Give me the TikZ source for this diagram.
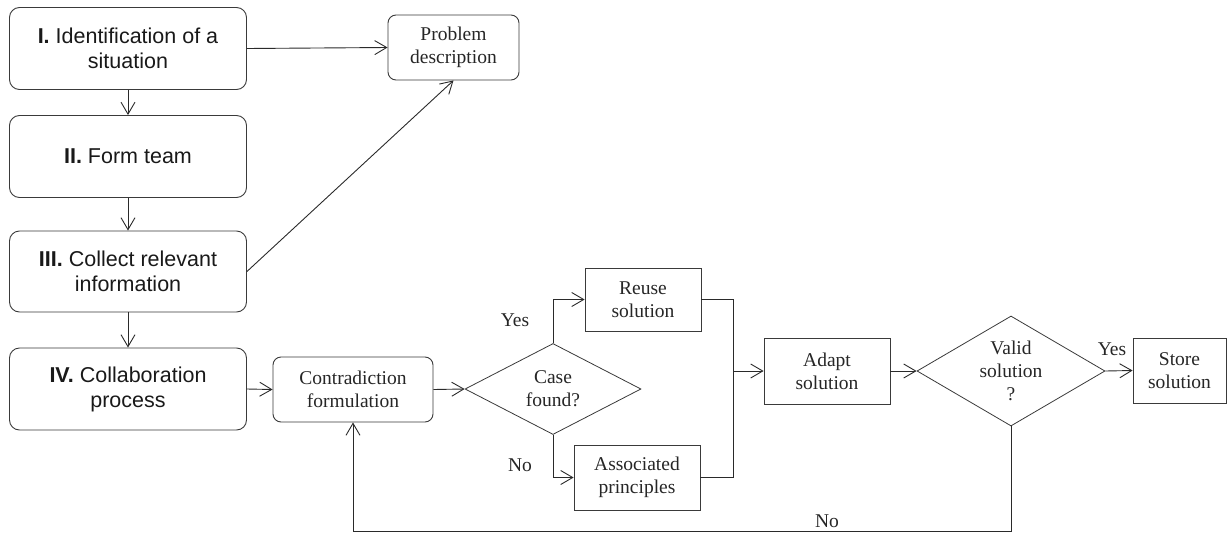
\documentclass[tikz,border=0pt]{standalone}
\usepackage{fontspec}
\setmainfont{Liberation Serif}
\setsansfont{Liberation Sans}
\usetikzlibrary{arrows.meta,shapes.geometric}
\definecolor{ln}{HTML}{2A2A2A}
\definecolor{bd}{HTML}{3A3A3A}
\tikzset{
  stage/.style={draw=bd, line width=0.9pt, rounded corners=10pt, minimum width=237pt, minimum height=82pt, inner sep=0pt, align=center, font=\fontsize{21.5}{25}\sffamily\selectfont, text=black!90},
  rbox/.style={draw=bd, line width=0.9pt, rounded corners=8pt, inner sep=0pt, align=center, font=\fontsize{19.5}{23}\selectfont, text=black!85},
  sbox/.style={draw=bd, line width=0.8pt, inner sep=0pt, align=center, font=\fontsize{19.5}{23}\selectfont, text=black!85},
  dec/.style={draw=bd, line width=0.8pt, diamond, inner sep=0pt, align=center, font=\fontsize{19.5}{23}\selectfont, text=black!85},
  lbl/.style={font=\fontsize{19.5}{23}\selectfont, text=black!85, inner sep=0pt},
  arr/.style={draw=ln, line width=0.9pt, -{Straight Barb[length=12pt,width=14pt,line width=0.9pt]}},
  lin/.style={draw=ln, line width=0.9pt}
}
\begin{document}
\begin{tikzpicture}[x=1pt,y=-1pt]
\useasboundingbox (0,0) rectangle (1229,533);
% left stages
\node[stage] (s1) at (128,48.5) {\textbf{I.} Identification of a\\situation};
\node[stage] (s2) at (128,156.5) {\textbf{II.} Form team};
\node[stage, minimum height=81pt] (s3) at (128,271.5) {\textbf{III.} Collect relevant\\information};
\node[stage] (s4) at (128,389) {\textbf{IV.} Collaboration\\process};
% right part
\node[rbox, minimum width=131pt, minimum height=65pt] (pd) at (453.5,47.5) {Problem\\description};
\node[rbox, minimum width=160pt, minimum height=65pt] (cf) at (353,389.5) {Contradiction\\formulation};
\node[dec, minimum width=176pt, minimum height=91pt, aspect=1.93] (case) at (553,389) {Case\\found?};
\node[sbox, minimum width=116pt, minimum height=63pt] (reuse) at (643,299.5) {Reuse\\solution};
\node[sbox, minimum width=126pt, minimum height=65pt] (assoc) at (637,477.5) {Associated\\principles};
\node[sbox, minimum width=126pt, minimum height=66pt] (adapt) at (827,371) {Adapt\\solution};
\node[dec, minimum width=188pt, minimum height=110pt, aspect=1.71] (valid) at (1011,371) {Valid\\solution\\?};
\node[sbox, minimum width=93pt, minimum height=65pt] (store) at (1179.5,370.5) {Store\\solution};
% labels
\node[lbl] (ly1) at (515,320) {Yes};
\node[lbl] (ln1) at (520,465) {No};
\node[lbl] (ly2) at (1112,349) {Yes};
\node[lbl] (ln2) at (827,521) {No};
% helper coordinates
\coordinate (j) at (733,371);
\coordinate (bot) at (0,531);
% connectors
\draw[arr] (s1.south) -- (s2.north);
\draw[arr] (s2.south) -- (s3.north);
\draw[arr] (s3.south) -- (s4.north);
\draw[arr] (s1.east) -- (pd.west);
\draw[arr] (s3.east) -- (pd.south);
\draw[arr] (s4.east) -- (cf.west);
\draw[arr] (cf.east) -- (case.west);
\draw[arr] (case.north) |- (reuse.west);
\draw[arr] (case.south) |- (assoc.west);
\draw[lin] (reuse.east) -| (j);
\draw[lin] (assoc.east) -| (j);
\draw[arr] (j) -- (adapt.west);
\draw[arr] (adapt.east) -- (valid.west);
\draw[arr] (valid.east) -- (store.west);
\draw[arr] (valid.south) -- (valid.south |- bot) -| (cf.south);
\end{tikzpicture}
\end{document}
